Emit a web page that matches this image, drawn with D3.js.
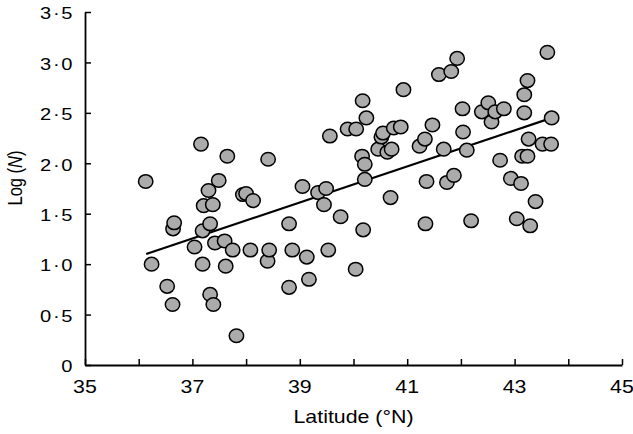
<!DOCTYPE html>
<html>
<head>
<meta charset="utf-8">
<script src="https://cdn.jsdelivr.net/npm/d3@7"></script>
<style>
  body { margin: 0; background: #fff; }
  svg text { font-family: "Liberation Sans", Arial, sans-serif; fill: #000; }
</style>
</head>
<body>
<div id="chartContent"></div>
<script>
// data
var latitude = [36.13, 36.24, 36.53, 36.63, 36.64, 36.66, 37.04, 37.16, 37.19, 37.19,
    37.21, 37.30, 37.33, 37.33, 37.38, 37.39, 37.42, 37.49, 37.60, 37.62,
    37.65, 37.75, 37.82, 37.94, 38.00, 38.08, 38.13, 38.41, 38.40, 38.43,
    38.80, 38.80, 38.86, 39.05, 39.13, 39.17, 39.34, 39.45, 39.49, 39.53,
    39.56, 39.76, 39.89, 40.05, 40.04, 40.16, 40.17, 40.18, 40.21, 40.21,
    40.24, 40.46, 40.52, 40.55, 40.63, 40.69, 40.71, 40.75, 40.88, 40.93,
    41.23, 41.33, 41.34, 41.36, 41.47, 41.59, 41.68, 41.74, 41.82, 41.87,
    41.93, 42.03, 42.04, 42.11, 42.19, 42.39, 42.51, 42.57, 42.64, 42.73,
    42.80, 42.93, 43.04, 43.12, 43.14, 43.18, 43.18, 43.24, 43.24, 43.26,
    43.29, 43.39, 43.52, 43.61, 43.68, 43.69]
var logN = [1.82, 1.00, 0.78, 0.60, 1.35, 1.41, 1.17, 2.19, 1.00, 1.33,
    1.58, 1.73, 0.70, 1.40, 1.59, 0.60, 1.21, 1.83, 1.23, 0.98,
    2.07, 1.14, 0.29, 1.69, 1.70, 1.14, 1.63, 2.04, 1.03, 1.14,
    1.40, 0.77, 1.14, 1.77, 1.07, 0.85, 1.71, 1.59, 1.75, 1.14,
    2.27, 1.47, 2.34, 2.34, 0.95, 2.07, 2.62, 1.34, 1.99, 1.84,
    2.45, 2.14, 2.26, 2.30, 2.11, 1.66, 2.14, 2.35, 2.36, 2.73,
    2.17, 2.24, 1.40, 1.82, 2.38, 2.88, 2.14, 1.81, 2.91, 1.88,
    3.04, 2.54, 2.31, 2.13, 1.43, 2.51, 2.60, 2.41, 2.51, 2.03,
    2.54, 1.85, 1.45, 1.80, 2.07, 2.50, 2.68, 2.07, 2.82, 2.24,
    1.38, 1.62, 2.19, 3.10, 2.19, 2.45]

// fitted line end points
var fitLat = [36.14, 43.69]
var fitLogN = [1.10, 2.45]

var xTicks = [35, 36, 37, 38, 39, 40, 41, 42, 43, 44, 45]
var xLabels = [35, 37, 39, 41, 43, 45]
var yTicks = [0, 0.5, 1, 1.5, 2, 2.5, 3, 3.5]

var width = 633
var height = 434
var margin = {top: 12, right: 11, bottom: 69, left: 85}
var stretch = 1.22   // the original figure text looks wider than normal

var svg = d3.select("#chartContent")
    .append("svg")
    .attr("width", width)
    .attr("height", height)

var x = d3.scaleLinear()
    .domain([35, 45])
    .range([margin.left, width - margin.right])

var y = d3.scaleLinear()
    .domain([0, 3.5])
    .range([height - margin.bottom, margin.top])

// x axis, ticks pointing inward
var xAxis = svg.append("g")
    .attr("transform", `translate(0,${height - margin.bottom})`)
    .call(d3.axisTop(x).tickValues(xTicks).tickSize(6).tickFormat("").tickSizeOuter(0))
xAxis.select(".domain").attr("stroke-width", 1.8)
xAxis.selectAll(".tick line").attr("stroke-width", 1.5)

svg.append("g").selectAll("text")
    .data(xLabels)
    .enter()
    .append("text")
    .attr("transform", d => `translate(${x(d)},${height - margin.bottom + 28}) scale(${stretch},1)`)
    .attr("text-anchor", "middle")
    .attr("font-size", 17.5)
    .text(d => d)

// y axis
var yAxis = svg.append("g")
    .attr("transform", `translate(${margin.left},0)`)
    .call(d3.axisRight(y).tickValues(yTicks).tickSize(6).tickFormat("").tickSizeOuter(0))
yAxis.select(".domain").attr("stroke-width", 1.8)
yAxis.selectAll(".tick line").attr("stroke-width", 1.5)

svg.append("g").selectAll("text")
    .data(yTicks)
    .enter()
    .append("text")
    .attr("transform", d => `translate(${margin.left - 12.5},${y(d) + 1.5}) scale(${stretch},1)`)
    .attr("dy", "0.35em")
    .attr("text-anchor", "end")
    .attr("font-size", 16.5)
    .text(d => d === 0 ? "0" : d3.format(".1f")(d).replace(".", "\u200a\u00b7\u200a"))

// axis titles
svg.append("text")
    .attr("transform", `translate(${x(40)},423) scale(${stretch},1)`)
    .attr("text-anchor", "middle")
    .attr("font-size", 17.5)
    .text("Latitude (°N)")

var yTitle = svg.append("text")
    .attr("transform", `translate(22,178) scale(${stretch},1) rotate(-90)`)
    .attr("text-anchor", "middle")
    .attr("font-size", 16.5)
yTitle.append("tspan").text("Log (")
yTitle.append("tspan").attr("font-style", "italic").text("N")
yTitle.append("tspan").text(")")

// regression line
var line = d3.line()
    .x(d => x(d[0]))
    .y(d => y(d[1]))

svg.append("path")
    .datum(d3.zip(fitLat, fitLogN))
    .attr("d", line)
    .attr("fill", "none")
    .attr("stroke", "#000")
    .attr("stroke-width", 2.2)

// points
svg.append("g").selectAll("ellipse")
    .data(d3.zip(latitude, logN))
    .enter()
    .append("ellipse")
    .attr("cx", d => x(d[0]))
    .attr("cy", d => y(d[1]))
    .attr("rx", 7.2)
    .attr("ry", 6.8)
    .attr("fill", "#ababab")
    .attr("stroke", "#000")
    .attr("stroke-width", 1.5)
</script>
</body>
</html>
